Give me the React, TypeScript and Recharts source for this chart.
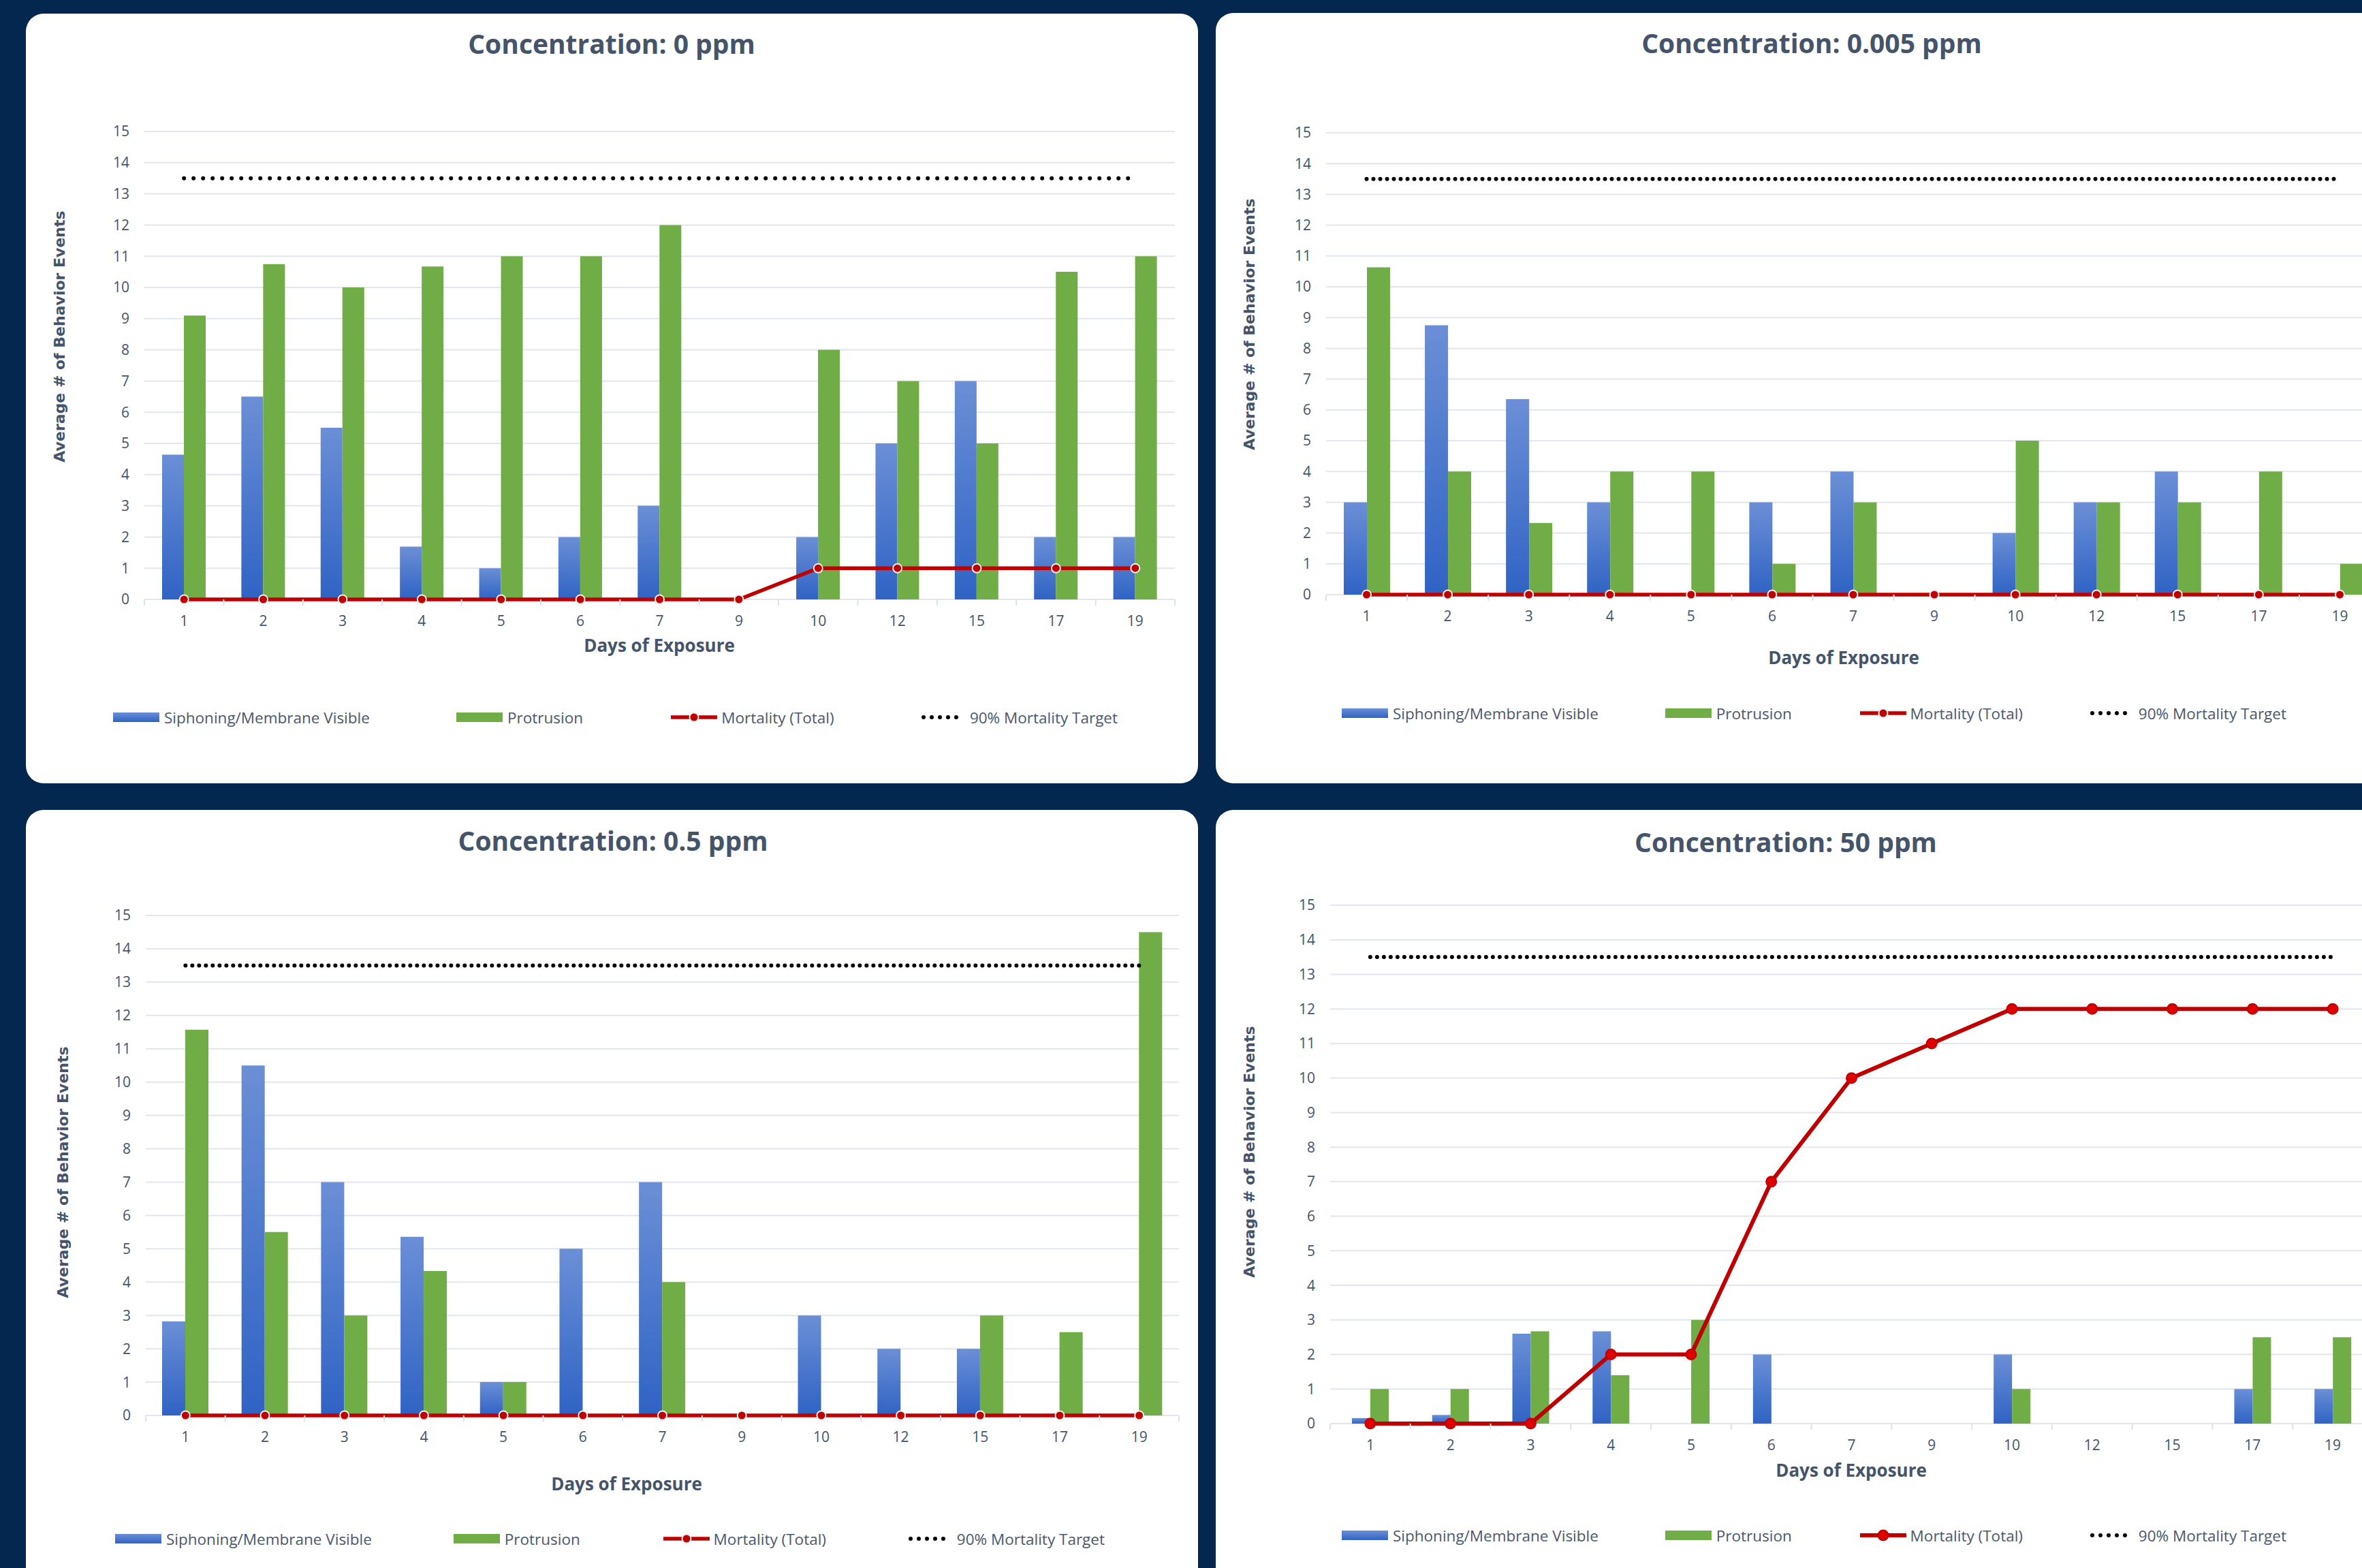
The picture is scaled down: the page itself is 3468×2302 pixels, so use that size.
import React from "react";
import { Bar, CartesianGrid, ComposedChart, Line, XAxis, YAxis } from "recharts";

// days on the category axis
const days = ["1", "2", "3", "4", "5", "6", "7", "9", "10", "12", "15", "17", "19"];
const yTicks = [0, 1, 2, 3, 4, 5, 6, 7, 8, 9, 10, 11, 12, 13, 14, 15];
const TARGET = 13.5;

// 0 ppm
const siph0 = [4.64, 6.5, 5.5, 1.69, 1, 2, 3, 0, 2, 5, 7, 2, 2];
const prot0 = [9.1, 10.75, 10, 10.67, 11, 11, 12, 0, 8, 7, 5, 10.5, 11];
const mort0 = [0, 0, 0, 0, 0, 0, 0, 0, 1, 1, 1, 1, 1];

// 0.005 ppm
const siph005 = [3, 8.75, 6.35, 3, 0, 3, 4, 0, 2, 3, 4, 0, 0];
const prot005 = [10.63, 4, 2.33, 4, 4, 1, 3, 0, 5, 3, 3, 4, 1];
const mort005 = [0, 0, 0, 0, 0, 0, 0, 0, 0, 0, 0, 0, 0];

// 0.5 ppm
const siph05 = [2.82, 10.5, 7, 5.36, 1, 5, 7, 0, 3, 2, 2, 0, 0];
const prot05 = [11.57, 5.5, 3, 4.33, 1, 0, 4, 0, 0, 0, 3, 2.5, 14.5];
const mort05 = [0, 0, 0, 0, 0, 0, 0, 0, 0, 0, 0, 0, 0];

// 50 ppm
const siph50 = [0.16, 0.25, 2.6, 2.67, 0, 2, 0, 0, 2, 0, 0, 1, 1];
const prot50 = [1, 1, 2.67, 1.4, 3, 0, 0, 0, 1, 0, 0, 2.5, 2.5];
const mort50 = [0, 0, 0, 2, 2, 7, 10, 11, 12, 12, 12, 12, 12];

const NAVY = "#03274f";
const SLATE = "#44546a";
const TEXT = "#4b586c";
const BLUE_TOP = "#6b8fd6";
const BLUE_BOT = "#2f63c4";
const GREEN = "#70ad47";
const RED = "#c00000";
const FONT = "'Open Sans', 'Liberation Sans', sans-serif";

type PanelProps = {
  id: string;
  title: string;
  siph: number[];
  prot: number[];
  mort: number[];
  left: number;
  top: number;
  width: number;
  height: number;
  plotLeft: number;
  plotRight: number;
  plotTop: number;
  plotBottom: number;
  titleX: number;
  titleY: number;
  xTitleX: number;
  xTitleY: number;
  yTitleX: number;
  yTitleY: number;
  legendLeft: number;
  legendRight: number;
  legendY: number;
  barSize: number;
  lineWidth: number;
  dotR: number;
  dotFill: string;
  dotStroke: string;
  dotGap: number;
};

const Panel = (p: PanelProps) => {
  const data = days.map((d, i) => ({
    day: d,
    siph: p.siph[i],
    prot: p.prot[i],
    mort: p.mort[i],
    target: TARGET,
  }));
  const half = (p.plotRight - p.plotLeft) / days.length / 2;
  const chartH = p.plotBottom + 60;

  const XTick = (props: any) => {
    const { x, y, payload, index } = props;
    const last = index === days.length - 1 || payload.value === days[days.length - 1];
    return (
      <g>
        <line x1={x - half} x2={x - half} y1={y} y2={y + 9} stroke="#dde1e8" strokeWidth={2} />
        {last && <line x1={x + half} x2={x + half} y1={y} y2={y + 9} stroke="#dde1e8" strokeWidth={2} />}
        <text
          x={x}
          y={y + 31}
          textAnchor="middle"
          dominantBaseline="central"
          fill={SLATE}
          fontSize={21}
          fontFamily={FONT}
        >
          {payload.value}
        </text>
      </g>
    );
  };

  return (
    <div
      style={{
        position: "absolute",
        left: p.left,
        top: p.top,
        width: p.width,
        height: p.height,
        background: "#fff",
        borderRadius: 26,
        overflow: "hidden",
      }}
    >
      <div
        style={{
          position: "absolute",
          left: p.titleX - 400,
          width: 800,
          top: p.titleY - 26,
          textAlign: "center",
          fontFamily: FONT,
          fontWeight: 700,
          fontSize: 39,
          color: SLATE,
          lineHeight: "52px",
        }}
      >
        {p.title}
      </div>
      <div
        style={{
          position: "absolute",
          left: p.yTitleX - 300,
          width: 600,
          top: p.yTitleY - 15,
          height: 30,
          lineHeight: "30px",
          textAlign: "center",
          transform: "rotate(-90deg)",
          fontFamily: "'DejaVu Sans', sans-serif",
          fontWeight: 700,
          fontSize: 22,
          color: SLATE,
        }}
      >
        Average # of Behavior Events
      </div>
      <ComposedChart
        width={p.width}
        height={chartH}
        data={data}
        margin={{ top: p.plotTop, right: p.width - p.plotRight, bottom: 0, left: 0 }}
        barGap={0}
        style={{ position: "absolute", left: 0, top: 0 }}
      >
        <defs>
          <linearGradient id={`blue-${p.id}`} x1="0" y1="0" x2="0" y2="1">
            <stop offset="0%" stopColor={BLUE_TOP} />
            <stop offset="100%" stopColor={BLUE_BOT} />
          </linearGradient>
        </defs>
        <CartesianGrid vertical={false} stroke="#e2e6ec" strokeWidth={2} />
        <XAxis
          dataKey="day"
          height={60}
          interval={0}
          tickSize={0}
          tickMargin={0}
          tickLine={false}
          axisLine={false}
          tick={<XTick />}
        />
        <YAxis
          width={p.plotLeft}
          domain={[0, 15]}
          ticks={yTicks}
          interval={0}
          axisLine={false}
          tickLine={false}
          tickSize={0}
          tickMargin={22}
          tick={{ fill: SLATE, fontSize: 21, fontFamily: FONT }}
        />
        <Bar
          dataKey="siph"
          name="Siphoning/Membrane Visible"
          fill={`url(#blue-${p.id})`}
          barSize={p.barSize}
          isAnimationActive={false}
        />
        <Bar dataKey="prot" name="Protrusion" fill={GREEN} barSize={p.barSize} isAnimationActive={false} />
        <Line
          dataKey="target"
          name="90% Mortality Target"
          type="linear"
          stroke="#000"
          strokeWidth={6}
          strokeDasharray={`0 ${p.dotGap}`}
          strokeLinecap="round"
          dot={false}
          isAnimationActive={false}
        />
        <Line
          dataKey="mort"
          name="Mortality (Total)"
          type="linear"
          stroke={RED}
          strokeWidth={p.lineWidth}
          dot={{ r: p.dotR, fill: p.dotFill, stroke: p.dotStroke, strokeWidth: 2 }}
          isAnimationActive={false}
        />
      </ComposedChart>
      <div
        style={{
          position: "absolute",
          left: p.xTitleX - 200,
          width: 400,
          top: p.xTitleY - 16,
          lineHeight: "32px",
          textAlign: "center",
          fontFamily: FONT,
          fontWeight: 700,
          fontSize: 26,
          color: SLATE,
        }}
      >
        Days of Exposure
      </div>
      <div
        style={{
          position: "absolute",
          left: p.legendLeft,
          width: p.legendRight - p.legendLeft,
          top: p.legendY - 16,
          height: 32,
          display: "flex",
          justifyContent: "space-between",
          alignItems: "center",
          fontFamily: FONT,
          fontSize: 22.5,
          color: TEXT,
        }}
      >
        <div style={{ display: "flex", alignItems: "center", gap: 7 }}>
          <div style={{ width: 68, height: 14, background: `linear-gradient(${BLUE_TOP}, ${BLUE_BOT})` }} />
          <span>Siphoning/Membrane Visible</span>
        </div>
        <div style={{ display: "flex", alignItems: "center", gap: 7 }}>
          <div style={{ width: 68, height: 14, background: GREEN }} />
          <span>Protrusion</span>
        </div>
        <div style={{ display: "flex", alignItems: "center", gap: 4 }}>
          <svg width={72} height={20}>
            <line x1={2} x2={70} y1={10} y2={10} stroke={RED} strokeWidth={p.lineWidth} />
            <circle cx={36} cy={10} r={p.dotR} fill={p.dotFill} stroke={p.dotStroke} strokeWidth={2} />
          </svg>
          <span>Mortality (Total)</span>
        </div>
        <div style={{ display: "flex", alignItems: "center", gap: 12 }}>
          <svg width={60} height={20}>
            <line
              x1={4}
              x2={56}
              y1={10}
              y2={10}
              stroke="#000"
              strokeWidth={6}
              strokeDasharray="0 12"
              strokeLinecap="round"
            />
          </svg>
          <span>90% Mortality Target</span>
        </div>
      </div>
    </div>
  );
};

export default function App() {
  return (
    <div
      style={{
        position: "absolute",
        left: 0,
        top: 0,
        width: 3468,
        height: 2302,
        overflow: "hidden",
        background: NAVY,
      }}
    >
      <Panel
        id="a"
        title="Concentration: 0 ppm"
        siph={siph0}
        prot={prot0}
        mort={mort0}
        left={38}
        top={20}
        width={1721}
        height={1130}
        plotLeft={174}
        plotRight={1687}
        plotTop={173}
        plotBottom={860}
        titleX={860}
        titleY={44}
        xTitleX={930}
        xTitleY={927}
        yTitleX={50}
        yTitleY={474}
        legendLeft={128}
        legendRight={1603}
        legendY={1033}
        barSize={32}
        lineWidth={5.5}
        dotR={6.5}
        dotFill={RED}
        dotStroke="#eeeeee"
        dotGap={14}
      />
      <Panel
        id="b"
        title="Concentration: 0.005 ppm"
        siph={siph005}
        prot={prot005}
        mort={mort005}
        left={1785}
        top={19}
        width={1750}
        height={1131}
        plotLeft={162}
        plotRight={1710}
        plotTop={176}
        plotBottom={854}
        titleX={875}
        titleY={44}
        xTitleX={922}
        xTitleY={946}
        yTitleX={50}
        yTitleY={457}
        legendLeft={185}
        legendRight={1572}
        legendY={1028}
        barSize={34}
        lineWidth={5.5}
        dotR={6.5}
        dotFill={RED}
        dotStroke="#eeeeee"
        dotGap={10}
      />
      <Panel
        id="c"
        title="Concentration: 0.5 ppm"
        siph={siph05}
        prot={prot05}
        mort={mort05}
        left={38}
        top={1189}
        width={1721}
        height={1200}
        plotLeft={176}
        plotRight={1693}
        plotTop={155}
        plotBottom={889}
        titleX={862}
        titleY={45}
        xTitleX={882}
        xTitleY={989}
        yTitleX={55}
        yTitleY={532}
        legendLeft={131}
        legendRight={1584}
        legendY={1070}
        barSize={34}
        lineWidth={5.5}
        dotR={6.5}
        dotFill={RED}
        dotStroke="#eeeeee"
        dotGap={10}
      />
      <Panel
        id="d"
        title="Concentration: 50 ppm"
        siph={siph50}
        prot={prot50}
        mort={mort50}
        left={1785}
        top={1189}
        width={1750}
        height={1200}
        plotLeft={168}
        plotRight={1699}
        plotTop={140}
        plotBottom={901}
        titleX={837}
        titleY={47}
        xTitleX={933}
        xTitleY={969}
        yTitleX={50}
        yTitleY={502}
        legendLeft={185}
        legendRight={1572}
        legendY={1065}
        barSize={27}
        lineWidth={6}
        dotR={7.5}
        dotFill="#e00000"
        dotStroke={RED}
        dotGap={10}
      />
    </div>
  );
}
